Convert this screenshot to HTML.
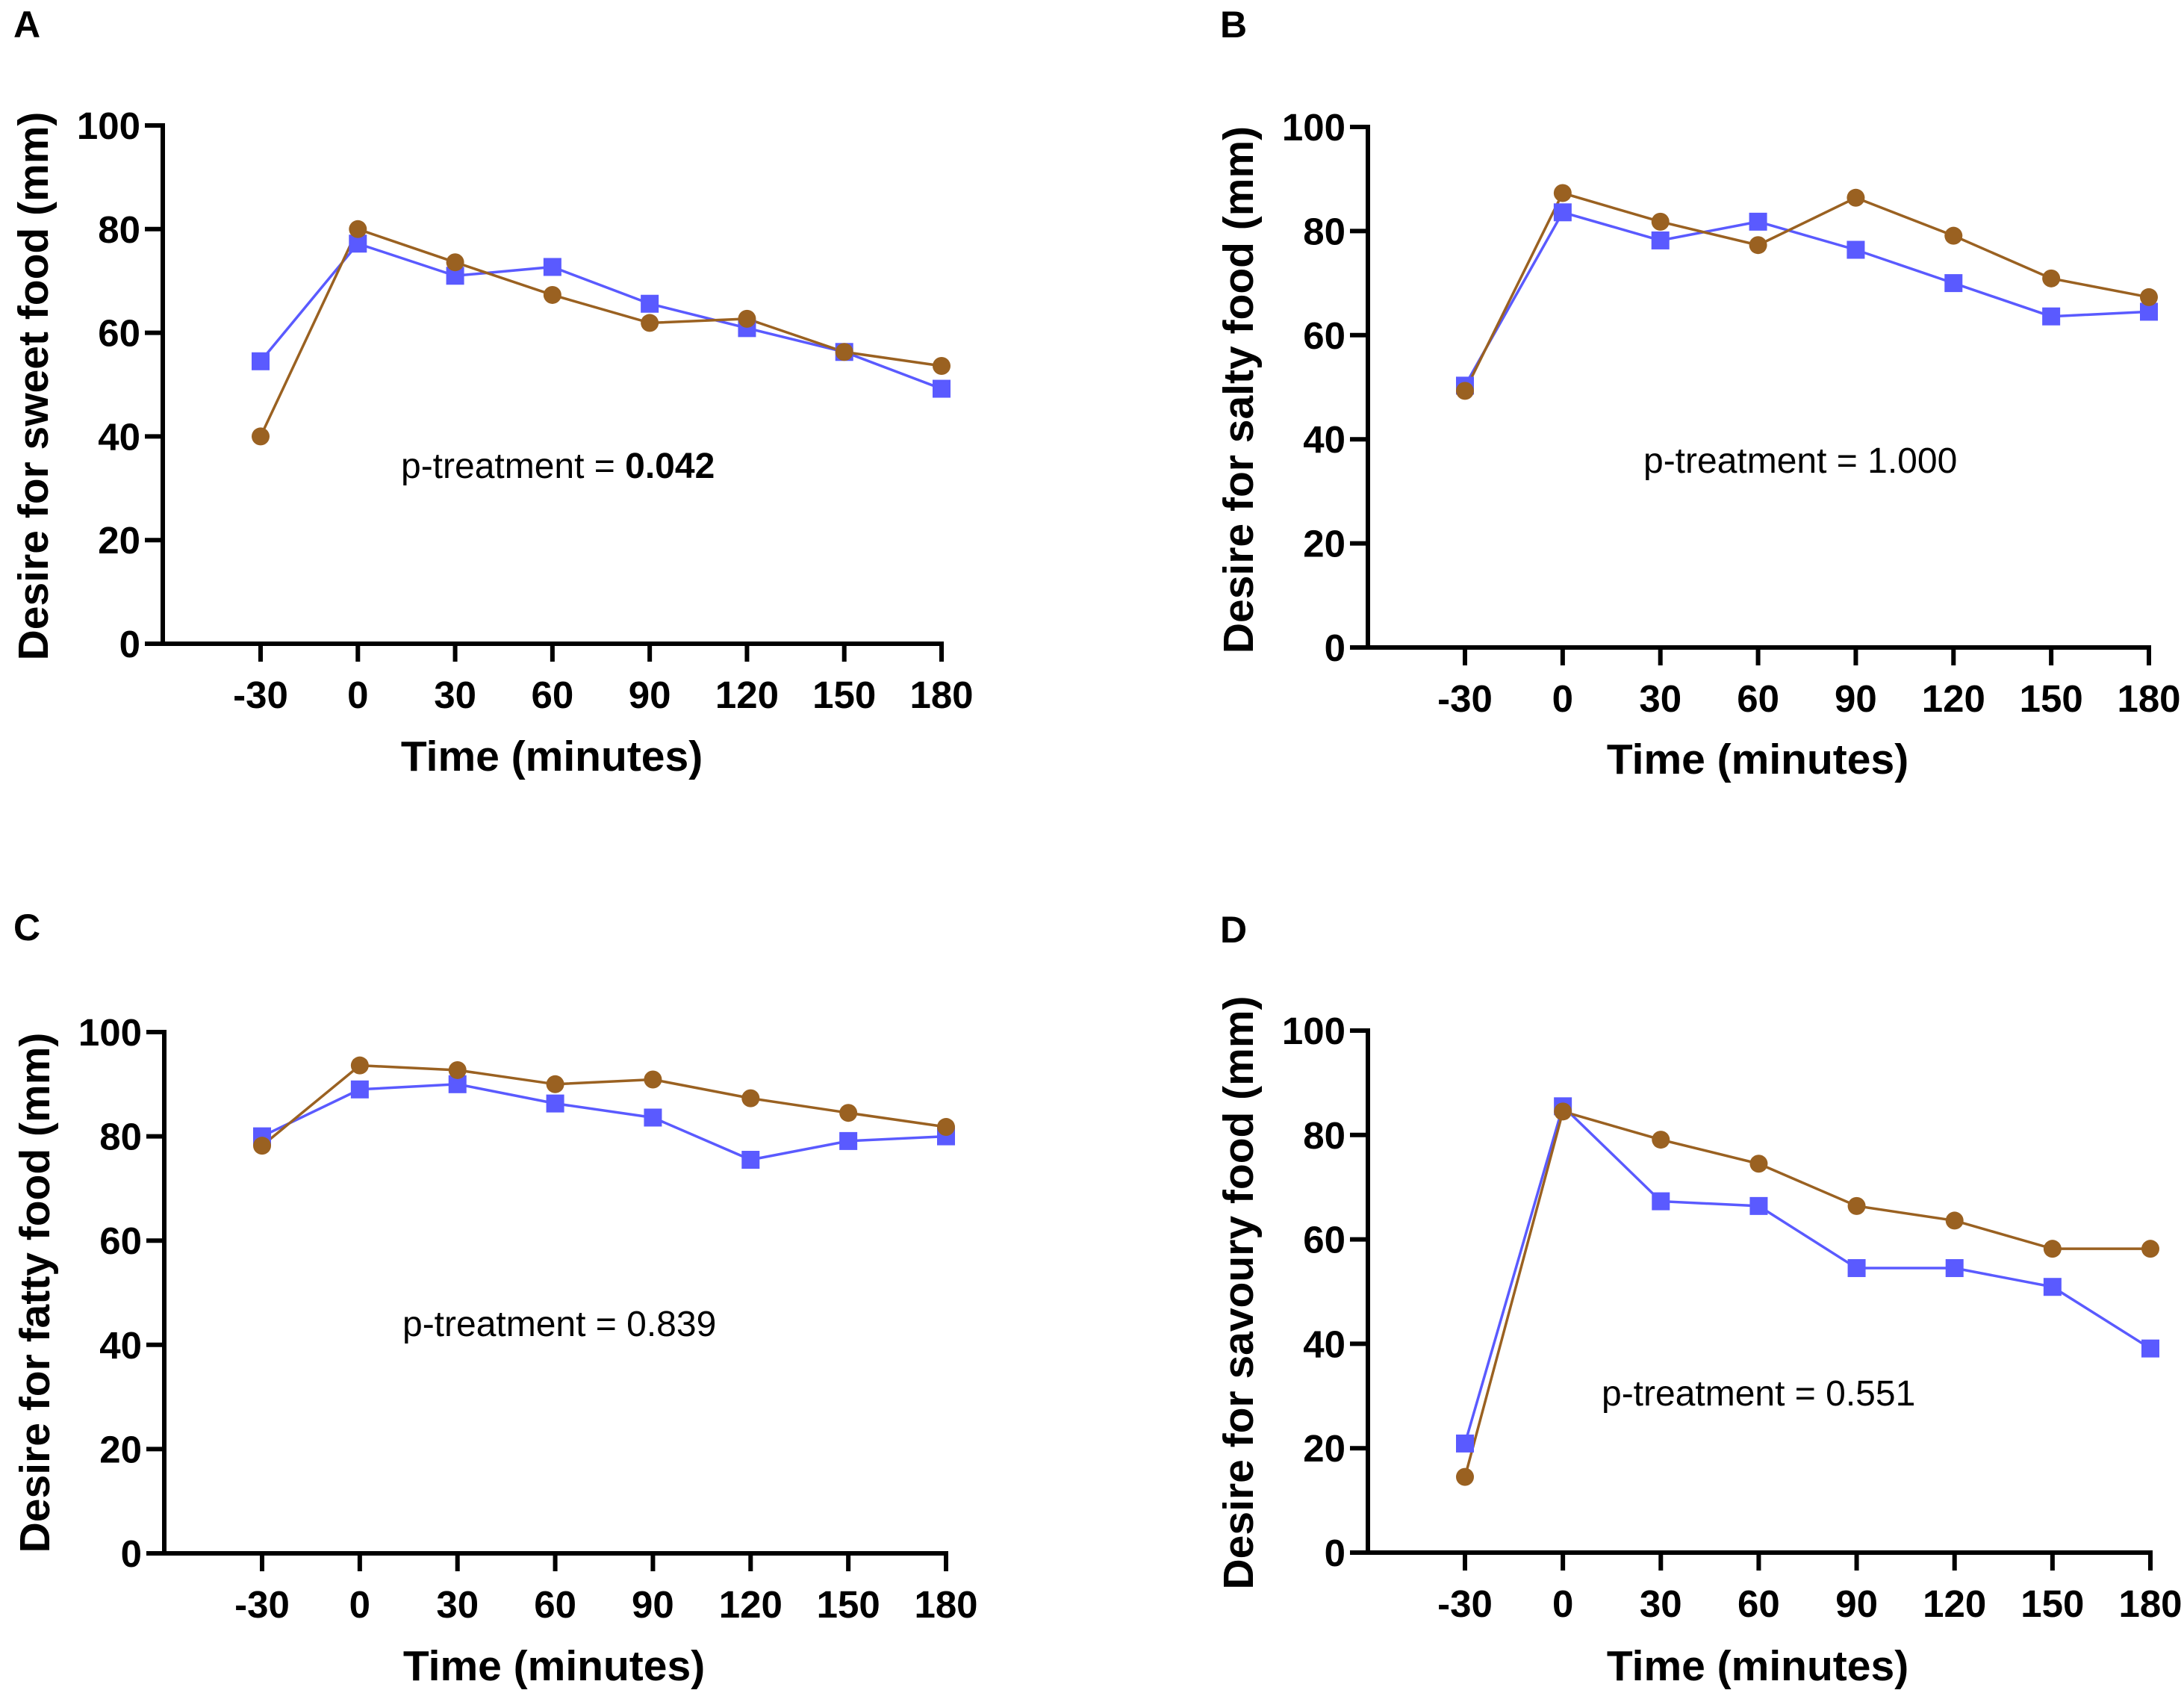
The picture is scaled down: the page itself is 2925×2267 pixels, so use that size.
<!DOCTYPE html>
<html><head><meta charset="utf-8">
<style>
html,body{margin:0;padding:0;background:#fff;}
svg{display:block;}
text{font-family:"Liberation Sans",Arial,sans-serif;fill:#000;}
</style></head>
<body>
<svg id="fig" width="2925" height="2267" viewBox="0 0 2925 2267" xmlns="http://www.w3.org/2000/svg"></svg>
<script>
const timepoints = [-30, 0, 30, 60, 90, 120, 150, 180];
const yTicks = [0, 20, 40, 60, 80, 100];
const xTickLabels = ["-30","0","30","60","90","120","150","180"];
const sweetBlue = [54.5, 77.2, 71, 72.7, 65.6, 60.9, 56.3, 49.2];
const sweetBrown = [40, 80, 73.6, 67.3, 61.9, 62.7, 56.3, 53.6];
const saltyBlue = [50.3, 83.6, 78.2, 81.8, 76.4, 70, 63.6, 64.5];
const saltyBrown = [49.3, 87.3, 81.8, 77.3, 86.4, 79.1, 70.9, 67.3];
const fattyBlue = [80, 89, 90, 86.3, 83.6, 75.5, 79.1, 80];
const fattyBrown = [78.2, 93.6, 92.7, 90, 90.9, 87.3, 84.5, 81.8];
const savouryBlue = [20.9, 85.5, 67.3, 66.4, 54.5, 54.5, 50.9, 39.1];
const savouryBrown = [14.5, 84.5, 79.1, 74.5, 66.4, 63.6, 58.2, 58.2];
const pValues = ["0.042", "1.000", "0.839", "0.551"];

const NS = "http://www.w3.org/2000/svg";
const svg = document.getElementById('fig');
function mk(tag, attrs, parent){ const e=document.createElementNS(NS,tag); for(const k in attrs) e.setAttribute(k,attrs[k]); (parent||svg).appendChild(e); return e; }

const panels = [
 {letter:"A", key:"sweet", title:"Desire for sweet food (mm)", blue:sweetBlue, brown:sweetBrown, p:pValues[0], bold:true,
  ax:218, y0:862, y100:168, xa:349, xb:1261, lx:18, ly:50, px:537, py:640, xtx:739, xty:1032, ytx:64, yty:517},
 {letter:"B", key:"salty", title:"Desire for salty food (mm)", blue:saltyBlue, brown:saltyBrown, p:pValues[1], bold:false,
  ax:1832, y0:867, y100:170, xa:1962, xb:2878, lx:1634, ly:50, px:2201, py:633, xtx:2354, xty:1036, ytx:1678, yty:522},
 {letter:"C", key:"fatty", title:"Desire for fatty food (mm)", blue:fattyBlue, brown:fattyBrown, p:pValues[2], bold:false,
  ax:220, y0:2080, y100:1382, xa:351, xb:1267, lx:18, ly:1259, px:539, py:1789, xtx:742, xty:2250, ytx:66, yty:1731},
 {letter:"D", key:"savoury", title:"Desire for savoury food (mm)", blue:savouryBlue, brown:savouryBrown, p:pValues[3], bold:false,
  ax:1832, y0:2079, y100:1380, xa:1962, xb:2880, lx:1634, ly:1262, px:2145, py:1882, xtx:2354, xty:2250, ytx:1678, yty:1731}
];

panels.forEach(P=>{
  const g = mk('g',{});
  
  
  const xs = v => P.xa + (v - timepoints[0])/(timepoints[timepoints.length-1]-timepoints[0])*(P.xb-P.xa);
  const ys = v => P.y0 + v/100*(P.y100-P.y0);

  const lt = mk('text',{x:P.lx,y:P.ly,'font-size':50,'font-weight':'bold'},g); lt.textContent=P.letter;
  
  

  const yAxis = mk('line',{x1:P.ax,y1:P.y100-3,x2:P.ax,y2:P.y0+3,stroke:'#000','stroke-width':6},g);
  
  
  const xAxis = mk('line',{x1:P.ax-24,y1:P.y0,x2:P.xb+3,y2:P.y0,stroke:'#000','stroke-width':6},g);
  
  

  yTicks.forEach(t=>{
    const y = ys(t);
    mk('line',{x1:P.ax-24,y1:y,x2:P.ax,y2:y,stroke:'#000','stroke-width':6},g);
    const tx = mk('text',{x:P.ax-30,y:y+18,'font-size':51,'font-weight':'bold','text-anchor':'end'},g);
    tx.textContent = t;
    
    
  });
  timepoints.forEach((t,i)=>{
    const x = xs(t);
    mk('line',{x1:x,y1:P.y0,x2:x,y2:P.y0+24,stroke:'#000','stroke-width':6},g);
    const tx = mk('text',{x:x,y:P.y0+86,'font-size':51,'font-weight':'bold','text-anchor':'middle'},g);
    tx.textContent = xTickLabels[i];
    
    
  });

  const xt = mk('text',{x:P.xtx,y:P.xty,'font-size':57,'font-weight':'bold','text-anchor':'middle'},g);
  xt.textContent = 'Time (minutes)';
  
  
  const yt = mk('text',{x:P.ytx,y:P.yty,'font-size':57,'font-weight':'bold','text-anchor':'middle',transform:`rotate(-90 ${P.ytx} ${P.yty})`},g);
  yt.textContent = P.title;
  
  

  const pt = mk('text',{x:P.px,y:P.py,'font-size':48},g);
  
  
  const s1 = mk('tspan',{},pt); s1.textContent = 'p-treatment = ';
  const s2 = mk('tspan',{'font-weight':P.bold?'bold':'normal'},pt); s2.textContent = P.p;

  const bpts = P.blue.map((v,i)=>xs(timepoints[i])+','+ys(v)).join(' ');
  const bl = mk('polyline',{points:bpts,fill:'none',stroke:'#5a5aff','stroke-width':3.5},g);
  
  
  const rpts = P.brown.map((v,i)=>xs(timepoints[i])+','+ys(v)).join(' ');
  const rl = mk('polyline',{points:rpts,fill:'none',stroke:'#9a6121','stroke-width':3.5},g);
  
  
  P.blue.forEach((v,i)=>{
    const m = mk('rect',{x:xs(timepoints[i])-12,y:ys(v)-12,width:24,height:24,fill:'#5a5aff'},g);
    
    
  });
  P.brown.forEach((v,i)=>{
    const m = mk('ellipse',{cx:xs(timepoints[i]),cy:ys(v),rx:12,ry:12,fill:'#9a6121'},g);
    
    
  });
});
</script>
</body></html>
